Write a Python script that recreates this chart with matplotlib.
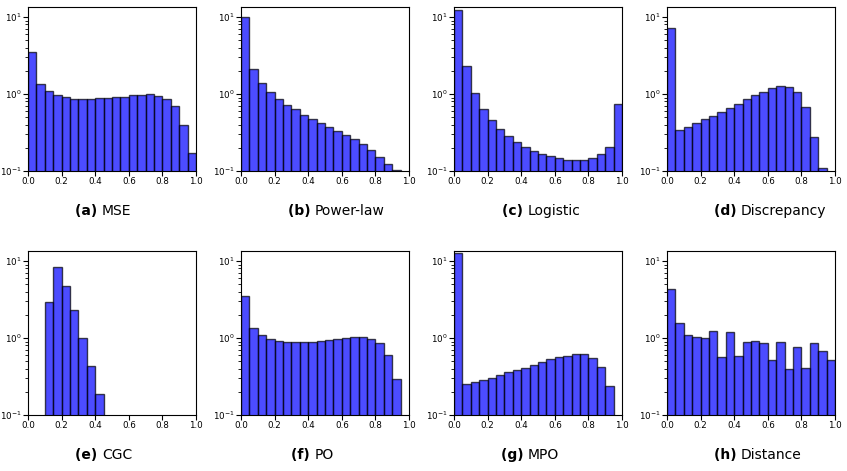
import numpy as np
import matplotlib
matplotlib.use("Agg")
import matplotlib.pyplot as plt

# 20 equal bins on [0, 1], density values (0 = empty bin)
bin_edges = np.linspace(0, 1, 21)

mse = [3.49, 1.33, 1.09, 0.98, 0.915, 0.87, 0.87, 0.87, 0.88, 0.90,
       0.915, 0.92, 0.96, 0.98, 0.99, 0.95, 0.87, 0.70, 0.40, 0.173]
power_law = [9.9, 2.13, 1.39, 1.05, 0.85, 0.71, 0.63, 0.535, 0.475, 0.426,
             0.374, 0.329, 0.295, 0.262, 0.221, 0.19, 0.153, 0.122, 0.102, 0]
logistic = [12.3, 2.28, 1.04, 0.646, 0.466, 0.349, 0.281, 0.235, 0.204, 0.183,
            0.164, 0.155, 0.146, 0.137, 0.137, 0.14, 0.147, 0.166, 0.202, 0.75]
discrepancy = [7.2, 0.346, 0.378, 0.418, 0.47, 0.525, 0.59, 0.666, 0.75, 0.853,
               0.96, 1.07, 1.18, 1.28, 1.24, 1.07, 0.685, 0.28, 0.11, 0]
cgc = [0, 0, 2.94, 8.36, 4.74, 2.32, 1.01, 0.436, 0.189, 0,
       0, 0, 0, 0, 0, 0, 0, 0, 0, 0]
po = [3.48, 1.34, 1.10, 0.98, 0.92, 0.89, 0.88, 0.89, 0.90, 0.92,
      0.95, 0.97, 1.01, 1.03, 1.04, 0.98, 0.87, 0.61, 0.293, 0]
mpo = [12.8, 0.255, 0.27, 0.284, 0.305, 0.327, 0.357, 0.383, 0.41, 0.444,
       0.481, 0.526, 0.565, 0.587, 0.617, 0.617, 0.558, 0.415, 0.238, 0]
distance = [4.38, 1.59, 1.10, 1.02, 1.00, 1.23, 0.565, 1.18, 0.587, 0.88,
            0.92, 0.85, 0.516, 0.90, 0.39, 0.76, 0.406, 0.85, 0.68, 0.516]

panels = [("(a)", "MSE", mse), ("(b)", "Power-law", power_law),
          ("(c)", "Logistic", logistic), ("(d)", "Discrepancy", discrepancy),
          ("(e)", "CGC", cgc), ("(f)", "PO", po),
          ("(g)", "MPO", mpo), ("(h)", "Distance", distance)]

W, H = 847, 471
fig = plt.figure(figsize=(W / 100, H / 100), dpi=100)

lefts = [28, 241, 454, 667]
tops = [7, 251]
ax_w, ax_h = 168, 164

for i, (tag, name, vals) in enumerate(panels):
    row, col = divmod(i, 4)
    x0 = lefts[col]
    y0 = tops[row]
    ax = fig.add_axes([x0 / W, 1 - (y0 + ax_h) / H, ax_w / W, ax_h / H])
    vals = np.array(vals, dtype=float)
    keep = vals > 0
    ax.bar(bin_edges[:-1][keep], vals[keep], width=np.diff(bin_edges)[keep],
           align="edge", color="blue", alpha=0.7, edgecolor="black", linewidth=1)
    ax.set_yscale("log")
    ax.set_xlim(0, 1)
    ax.set_ylim(0.1, 13.5)
    ax.set_xticks(np.arange(0, 1.01, 0.2))
    ax.tick_params(labelsize=6.3, pad=1)
    ax.tick_params(which="major", length=3.5)
    ax.tick_params(which="minor", length=2)
    # caption under each panel: bold tag then name
    cx = (x0 + ax_w / 2 - 10) / W
    cy = 1 - (y0 + ax_h + 40) / H
    fig.text(cx, cy, tag + " ", ha="right", va="center", fontsize=10, fontweight="bold")
    fig.text(cx, cy, name, ha="left", va="center", fontsize=10)

fig.savefig("out.png", dpi=100)
